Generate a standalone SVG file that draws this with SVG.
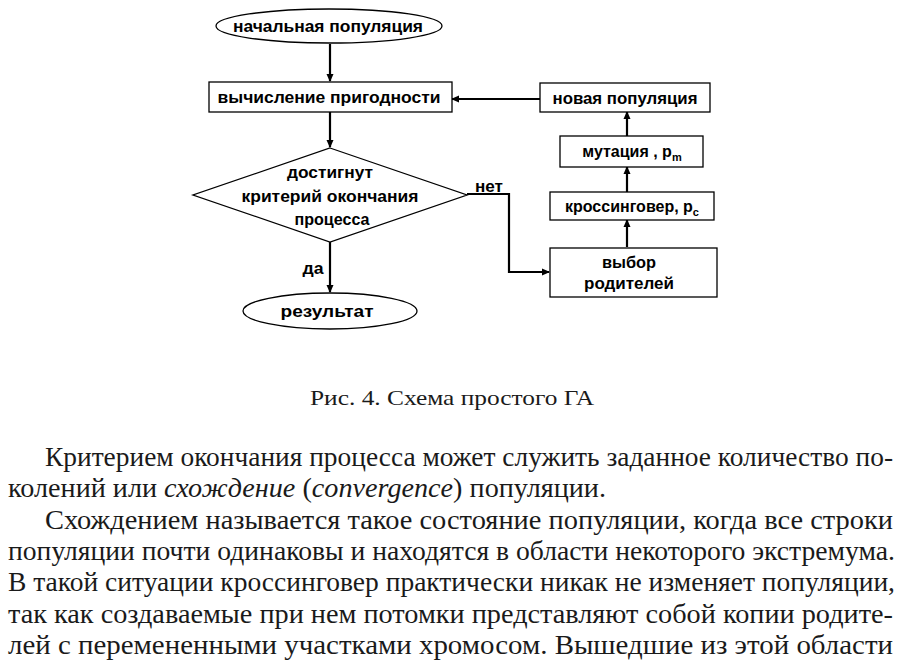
<svg xmlns="http://www.w3.org/2000/svg" width="904" height="663" viewBox="0 0 904 663">
<style>
.sh{fill:#fff;stroke:#000;stroke-width:1.3}
.lb{font-family:"Liberation Sans",Arial,sans-serif;font-weight:bold;font-size:16px;fill:#000;text-anchor:middle}
.cn{fill:none;stroke:#000;stroke-width:2.2}
.it{font-style:italic}
</style>
<defs>
<marker id="ah" markerWidth="8" markerHeight="8" refX="7" refY="4" orient="auto" markerUnits="userSpaceOnUse">
<path d="M0,0.5 L8,4 L0,7.5 Z" fill="#000"/>
</marker>
</defs>
<rect width="904" height="663" fill="#fff"/>
<g id="connectors">
<line class="cn" x1="330" y1="44" x2="330" y2="81" marker-end="url(#ah)"/>
<line class="cn" x1="330" y1="111" x2="330" y2="147" marker-end="url(#ah)"/>
<line class="cn" x1="330" y1="242" x2="330" y2="292" marker-end="url(#ah)"/>
<polyline class="cn" points="467,194 509,194 509,272 549,272" marker-end="url(#ah)"/>
<line class="cn" x1="627" y1="247" x2="627" y2="220" marker-end="url(#ah)"/>
<line class="cn" x1="627" y1="192" x2="627" y2="167" marker-end="url(#ah)"/>
<line class="cn" x1="627" y1="136" x2="627" y2="112" marker-end="url(#ah)"/>
<line class="cn" x1="540" y1="99" x2="452" y2="99" marker-end="url(#ah)"/>
<text class="lb" x="489" y="192" textLength="28" lengthAdjust="spacingAndGlyphs">нет</text>
<text class="lb" x="313" y="274" textLength="21" lengthAdjust="spacingAndGlyphs">да</text>
</g>
<g id="start">
<ellipse class="sh" cx="329" cy="26" rx="113" ry="17"/>
<text class="lb" x="328" y="32" textLength="190" lengthAdjust="spacingAndGlyphs">начальная популяция</text>
</g>
<g id="fitness">
<rect class="sh" x="209" y="82" width="243" height="30"/>
<text class="lb" x="329" y="103" textLength="223" lengthAdjust="spacingAndGlyphs">вычисление пригодности</text>
</g>
<g id="decision">
<polygon class="sh" points="330,148 467,195 330,242 193,195"/>
<text class="lb" x="330" y="178" textLength="86" lengthAdjust="spacingAndGlyphs">достигнут</text>
<text class="lb" x="330" y="202" textLength="177" lengthAdjust="spacingAndGlyphs">критерий окончания</text>
<text class="lb" x="332" y="225" textLength="75" lengthAdjust="spacingAndGlyphs">процесса</text>
</g>
<g id="result">
<ellipse class="sh" cx="330" cy="311" rx="87" ry="18"/>
<text class="lb" x="327" y="317" textLength="93" lengthAdjust="spacingAndGlyphs">результат</text>
</g>
<g id="newpop">
<rect class="sh" x="540" y="83" width="170" height="29"/>
<text class="lb" x="625" y="104" textLength="145" lengthAdjust="spacingAndGlyphs">новая популяция</text>
</g>
<g id="mutation">
<rect class="sh" x="560" y="136" width="143" height="31"/>
<text class="lb" x="632" y="157" font-size="17">мутация , p<tspan font-size="11" dy="4">m</tspan></text>
</g>
<g id="crossover">
<rect class="sh" x="550" y="192" width="164" height="28"/>
<text class="lb" x="632" y="212" font-size="17">кроссинговер, p<tspan font-size="11" dy="4">c</tspan></text>
</g>
<g id="selection">
<rect class="sh" x="550" y="248" width="167" height="49"/>
<text class="lb" x="629" y="268" textLength="54" lengthAdjust="spacingAndGlyphs">выбор</text>
<text class="lb" x="629" y="289" textLength="90" lengthAdjust="spacingAndGlyphs">родителей</text>
</g>
<text x="452" y="405" font-family="'Liberation Serif','Times New Roman',serif" font-size="22" fill="#1a1a1a" text-anchor="middle" textLength="284" lengthAdjust="spacingAndGlyphs">Рис. 4. Схема простого ГА</text>
<g id="body" font-family="'Liberation Serif','Times New Roman',serif" font-size="27" fill="#1a1a1a">
<text x="45" y="466" textLength="848" lengthAdjust="spacingAndGlyphs">Критерием окончания процесса может служить заданное количество по-</text>
<text x="8" y="497" textLength="598" lengthAdjust="spacingAndGlyphs">колений или <tspan class="it">схождение</tspan> (<tspan class="it">convergence</tspan>) популяции.</text>
<text x="45" y="529" textLength="848" lengthAdjust="spacingAndGlyphs">Схождением называется такое состояние популяции, когда все строки</text>
<text x="8" y="560" textLength="887" lengthAdjust="spacingAndGlyphs">популяции почти одинаковы и находятся в области некоторого экстремума.</text>
<text x="8" y="591" textLength="887" lengthAdjust="spacingAndGlyphs">В такой ситуации кроссинговер практически никак не изменяет популяции,</text>
<text x="8" y="623" textLength="885" lengthAdjust="spacingAndGlyphs">так как создаваемые при нем потомки представляют собой копии родите-</text>
<text x="8" y="654" textLength="885" lengthAdjust="spacingAndGlyphs">лей с перемененными участками хромосом. Вышедшие из этой области</text>
</g>
</svg>
